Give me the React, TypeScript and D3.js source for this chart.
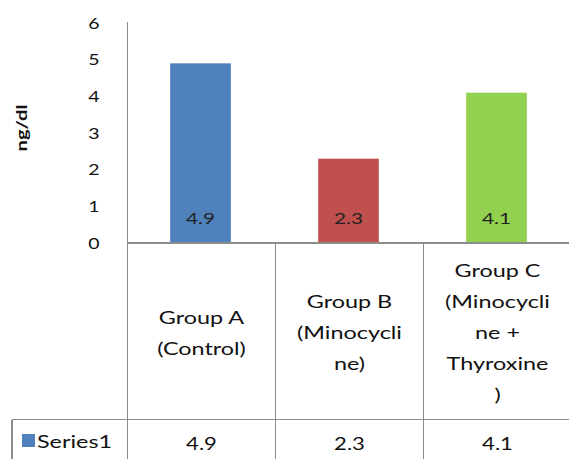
import React, { useEffect, useRef } from "react";
import * as d3 from "d3";

const categories = ["Group A", "Group B", "Group C"];
const categoryLines = [
    ["Group A", "(Control)"],
    ["Group B", "(Minocycli", "ne)"],
    ["Group C", "(Minocycli", "ne +", "Thyroxine", ")"],
];
const values = [4.9, 2.3, 4.1];
const barColors = ["#4F81BD", "#C0504D", "#92D050"];
const yTicks = [0, 1, 2, 3, 4, 5, 6];
const seriesName = "Series1";
const yLabel = "ng/dl";

export default function App() {
    const svgRef = useRef(null);
    const width = 569;
    const height = 459;

    useEffect(() => {
        const svg = d3.select(svgRef.current);
        svg.selectAll("*").remove();

        const font = "Lato, 'Open Sans', sans-serif";
        const stretch = 1.3;
        const axisX = 127.5;
        const tableTop = 243;
        const rowTop = 419.5;
        const lineColor = "#8c8c8c";

        // cells of the data table are the category bands
        const xScale = d3.scaleBand()
            .domain(categories)
            .range([axisX, axisX + 148 * categories.length])
            .padding(0);

        const yScale = d3.scaleLinear()
            .domain([0, 6])
            .range([tableTop, 23]);

        const barWidth = xScale.bandwidth() * 0.41;

        // bars
        svg.selectAll(".bar")
            .data(values)
            .join("rect")
            .attr("class", "bar")
            .attr("x", (d, i) => xScale(categories[i]) + xScale.bandwidth() / 2 - barWidth / 2 - 1)
            .attr("y", d => yScale(d))
            .attr("width", barWidth)
            .attr("height", d => tableTop - yScale(d))
            .attr("fill", (d, i) => barColors[i]);

        // labels inside bars
        svg.selectAll(".barLabel")
            .data(values)
            .join("text")
            .attr("class", "barLabel")
            .attr("transform", (d, i) => `translate(${xScale(categories[i]) + xScale.bandwidth() / 2 - 1},224) scale(${stretch},1)`)
            .attr("text-anchor", "middle")
            .style("font-family", font)
            .style("font-size", "16px")
            .attr("fill", "#222")
            .text(d => d.toFixed(1));

        // y tick labels
        svg.selectAll(".tick")
            .data(yTicks)
            .join("text")
            .attr("class", "tick")
            .attr("transform", d => `translate(94,${yScale(d) + 5.5}) scale(${stretch},1)`)
            .attr("text-anchor", "middle")
            .style("font-family", font)
            .style("font-size", "15px")
            .attr("fill", "#111")
            .text(d => d);

        // y axis title
        svg.append("text")
            .attr("transform", `translate(27,128) rotate(-90) scale(1.35,1)`)
            .attr("text-anchor", "middle")
            .style("font-family", font)
            .style("font-size", "15px")
            .style("font-weight", "bold")
            .attr("fill", "#111")
            .text(yLabel);

        // axis + table lines
        const lines = svg.append("g")
            .attr("stroke", lineColor)
            .attr("stroke-width", 1.5)
            .attr("shape-rendering", "crispEdges");

        lines.append("line")
            .attr("x1", axisX).attr("x2", axisX)
            .attr("y1", 22).attr("y2", height);
        lines.append("line")
            .attr("x1", axisX).attr("x2", width)
            .attr("y1", tableTop).attr("y2", tableTop);
        lines.append("line")
            .attr("x1", 12).attr("x2", width)
            .attr("y1", rowTop).attr("y2", rowTop);
        lines.append("line")
            .attr("x1", 12).attr("x2", 12)
            .attr("y1", rowTop).attr("y2", height);
        lines.selectAll(".sep")
            .data(categories.slice(1))
            .join("line")
            .attr("class", "sep")
            .attr("x1", d => xScale(d)).attr("x2", d => xScale(d))
            .attr("y1", tableTop).attr("y2", height);

        // category labels in the table
        const lineHeight = 31;
        categoryLines.forEach((linesText, i) => {
            const cx = xScale(categories[i]) + xScale.bandwidth() / 2;
            const firstBase = 339 - (linesText.length - 1) * lineHeight / 2;
            svg.selectAll(`.cat${i}`)
                .data(linesText)
                .join("text")
                .attr("class", `cat${i}`)
                .attr("transform", (d, j) => `translate(${cx},${firstBase + j * lineHeight}) scale(${stretch},1)`)
                .attr("text-anchor", "middle")
                .style("font-family", font)
                .style("font-size", "18px")
                .attr("fill", "#111")
                .text(d => d);
        });

        // legend key + series name
        svg.append("rect")
            .attr("x", 22)
            .attr("y", 434)
            .attr("width", 13)
            .attr("height", 13)
            .attr("fill", barColors[0]);

        svg.append("text")
            .attr("transform", `translate(37,448) scale(${stretch},1)`)
            .style("font-family", font)
            .style("font-size", "18px")
            .attr("fill", "#111")
            .text(seriesName);

        // values row
        svg.selectAll(".val")
            .data(values)
            .join("text")
            .attr("class", "val")
            .attr("transform", (d, i) => `translate(${xScale(categories[i]) + xScale.bandwidth() / 2},450) scale(${stretch},1)`)
            .attr("text-anchor", "middle")
            .style("font-family", font)
            .style("font-size", "17px")
            .attr("fill", "#111")
            .text(d => d.toFixed(1));
    }, []);

    return (
        <svg
            ref={svgRef}
            width={width}
            height={height}
            style={{ position: "absolute", left: 0, top: 0, background: "#fff" }}
        />
    );
}
